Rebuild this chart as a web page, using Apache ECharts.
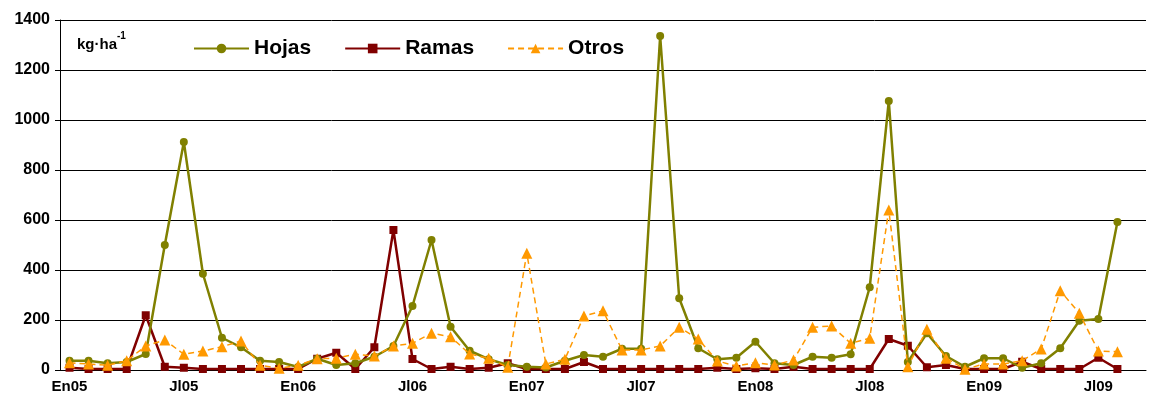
<!DOCTYPE html>
<html>
<head>
<meta charset="utf-8">
<script src="https://cdn.jsdelivr.net/npm/echarts@6/dist/echarts.min.js"></script>
<style>
  html, body { margin: 0; padding: 0; background: #fff; }
  #chart { width: 1164px; height: 405px; }
</style>
</head>
<body>
<div id="chart"></div>
<script>
// meses En05 .. Sp09
const monthNames = ['En', 'Fb', 'Mr', 'Ab', 'My', 'Jn', 'Jl', 'Ag', 'Sp', 'Oc', 'Nv', 'Dc'];
const years = ['05', '06', '07', '08', '09'];
const categories = [];
years.forEach(y => monthNames.forEach(m => categories.push(m + y)));
categories.length = 57;

const hojas = [37, 37, 27, 32, 64, 500, 912, 385, 129, 91, 37, 32, 12, 45, 20,
    27, 53, 96, 256, 520, 173, 77, 43, 20, 13, 10, 37, 60, 53, 85,
    85, 1336, 287, 87, 43, 49, 113, 27, 20, 53, 49, 63, 331, 1076, 32,
    147, 56, 13, 47, 47, 9, 27, 87, 197, 204, 592];
const ramas = [9, 4, 4, 4, 219, 13, 9, 4, 4, 4, 4, 4, 4, 45, 69,
    4, 91, 560, 44, 4, 13, 4, 9, 27, 4, 4, 4, 32, 4, 4,
    4, 4, 4, 4, 9, 4, 7, 4, 13, 4, 4, 4, 4, 124, 97,
    11, 20, 4, 4, 4, 33, 4, 4, 4, 49, 4];
const otros = [29, 24, 19, 37, 96, 120, 63, 76, 93, 116, 19, 7, 19, 45, 47,
    63, 56, 96, 107, 147, 133, 64, 47, 11, 467, 24, 43, 216, 237, 80,
    80, 96, 171, 124, 36, 16, 29, 20, 40, 171, 176, 107, 127, 640, 13,
    163, 47, 3, 24, 24, 37, 84, 317, 227, 76, 73];

const font = 'Liberation Sans, Arial, sans-serif';

const chart = echarts.init(document.getElementById('chart'), null, { renderer: 'canvas' });

const options = {
    animation: false,
    grid: { left: 60, right: 18, top: 20, bottom: 35 },
    legend: {
        left: 188,
        top: 33,
        itemWidth: 55,
        itemHeight: 12,
        itemGap: 33,
        textStyle: { fontFamily: font, fontWeight: 'bold', fontSize: 21, color: '#000' },
        data: ['Hojas', 'Ramas', 'Otros']
    },
    graphic: [{
        type: 'text',
        left: 77,
        top: 31,
        style: {
            text: '{a|kg·ha}{b|-1}',
            rich: {
                a: { fontFamily: font, fontWeight: 'bold', fontSize: 15, fill: '#000', padding: [6, 0, 0, 0] },
                b: { fontFamily: font, fontWeight: 'bold', fontSize: 10, fill: '#000', verticalAlign: 'top' }
            }
        }
    }],
    xAxis: {
        type: 'category',
        data: categories,
        boundaryGap: true,
        axisLine: { lineStyle: { color: '#000', width: 1 } },
        axisTick: { interval: 0, length: 5, lineStyle: { color: '#000' } },
        axisLabel: {
            interval: 5,
            margin: 9,
            fontFamily: font, fontWeight: 'bold', fontSize: 15, color: '#000'
        },
        splitLine: { show: false }
    },
    yAxis: {
        type: 'value',
        min: 0,
        max: 1400,
        interval: 200,
        axisLine: { show: true, lineStyle: { color: '#000', width: 1 } },
        axisTick: { show: true, length: 5, inside: false, lineStyle: { color: '#000' } },
        axisLabel: {
            margin: 10,
            formatter: v => String(v),
            fontFamily: font, fontWeight: 'bold', fontSize: 16, color: '#000'
        },
        splitLine: { lineStyle: { color: '#000', width: 1 } }
    },
    series: [
        {
            name: 'Hojas',
            type: 'line',
            data: hojas,
            symbol: 'circle',
            symbolSize: 8,
            lineStyle: { color: '#808000', width: 2.5 },
            itemStyle: { color: '#808000' },
            z: 3
        },
        {
            name: 'Ramas',
            type: 'line',
            data: ramas,
            symbol: 'rect',
            symbolSize: 8,
            lineStyle: { color: '#800000', width: 2.5 },
            itemStyle: { color: '#800000' },
            z: 2
        },
        {
            name: 'Otros',
            type: 'line',
            data: otros,
            symbol: 'triangle',
            symbolSize: 11,
            lineStyle: { color: '#FF9900', width: 1.5, type: [6, 4] },
            itemStyle: { color: '#FF9900' },
            z: 4
        }
    ]
};

chart.setOption(options);
</script>
</body>
</html>
